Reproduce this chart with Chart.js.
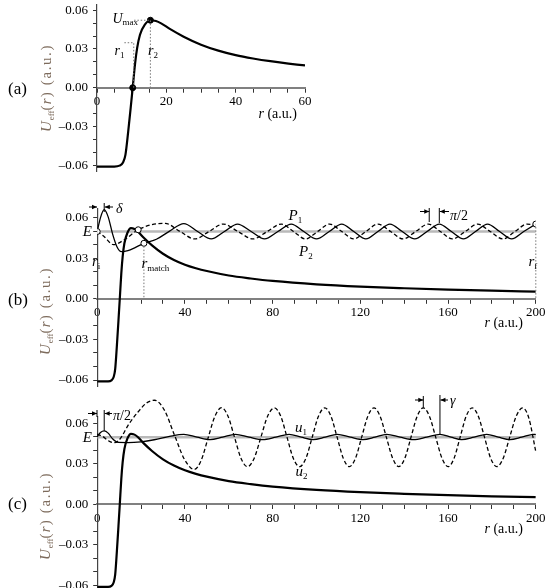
<!DOCTYPE html>
<html>
<head>
<meta charset="utf-8">
<script src="https://cdn.jsdelivr.net/npm/chart.js@4.4.1/dist/chart.umd.min.js"></script>
<style>
  body { margin: 0; background: #fff; width: 550px; height: 588px; position: relative; overflow: hidden; }
  canvas { position: absolute; left: 0; top: -40px; }
</style>
</head>
<body>
<canvas id="painelA" width="550" height="668"></canvas>
<canvas id="painelB" width="550" height="668"></canvas>
<canvas id="painelC" width="550" height="668"></canvas>
<script>
// ------------------ DADOS ------------------
// potencial efetivo U_eff(r) (o mesmo nos três painéis)
const rPot = [0, 5, 6.5, 7.5, 8.2, 9, 9.7, 10.3, 11, 11.6, 12.4, 13.8, 15.4, 17, 18.5, 21, 25, 30, 35, 40, 45, 50, 60, 70, 80, 100, 120, 140, 160, 180, 200];
const uPot = [-0.061, -0.061, -0.0603, -0.0578, -0.052, -0.034, -0.016, 0, 0.019, 0.031, 0.041, 0.0488, 0.0522, 0.0516, 0.0498, 0.0455, 0.0395, 0.0333, 0.0287, 0.0252, 0.0226, 0.0205, 0.0172, 0.015, 0.0132, 0.0107, 0.009, 0.0078, 0.0068, 0.006, 0.0053];

// painel (a): pontos r1, r2 e U_max
const rMarcas = [10.3, 15.4];
const uMarcas = [0, 0.0522];

// energia E (linha cinza)
const E = 0.0497;
const rE = [0, 200];

// painel (b): P1 (contínua) e P2 (tracejada)
const rP1 = [0, 1.5, 3.2, 5, 7, 9, 11, 14, 17.5, 21.3, 27, 33, 39.5, 45.8, 52, 58, 64, 70.2, 76.3, 82.4, 88.5, 94.2, 100, 105.8, 111.5, 117, 122.5, 128, 133.5, 139.1, 144.8, 150.4, 156, 161.5, 167, 172.5, 178, 183.5, 189, 194.5, 200];
const uP1 = [0.0497, 0.06, 0.0658, 0.0605, 0.048, 0.0385, 0.0348, 0.0355, 0.038, 0.041, 0.044, 0.05, 0.0555, 0.0497, 0.0442, 0.0497, 0.0552, 0.0497, 0.0442, 0.0497, 0.0552, 0.0497, 0.0442, 0.0497, 0.0552, 0.0497, 0.0442, 0.0497, 0.0552, 0.0497, 0.0442, 0.0497, 0.0552, 0.0497, 0.0442, 0.0497, 0.0552, 0.0497, 0.0442, 0.0497, 0.0552];
const rP2 = [0, 3, 7.4, 12, 18.7, 25, 31, 37.8, 44.5, 51, 57.5, 64.2, 71, 77.5, 84, 89.5, 95, 100.5, 106, 111.5, 117, 122.5, 128, 133.8, 139.5, 145.2, 151, 156.5, 162, 167.8, 173.5, 179.2, 185, 190.5, 196, 200];
const uP2 = [0.0497, 0.0462, 0.04, 0.0432, 0.051, 0.0548, 0.0557, 0.0497, 0.0442, 0.0497, 0.0552, 0.0497, 0.0442, 0.0497, 0.0552, 0.0497, 0.0442, 0.0497, 0.0552, 0.0497, 0.0442, 0.0497, 0.0552, 0.0497, 0.0442, 0.0497, 0.0552, 0.0497, 0.0442, 0.0497, 0.0552, 0.0497, 0.0442, 0.0497, 0.0552, 0.0545];
// círculos: r_i, casamento das duas curvas, r_match, r_f
const rCirc = [0, 18.7, 21.3, 200];
const uCirc = [0.0497, 0.051, 0.041, 0.0552];

// painel (c): u1 (contínua) e u2 (tracejada)
const rU1 = [0, 1.5, 3.2, 5, 7, 9.6, 14, 20, 26, 33, 39.5, 45.5, 51.5, 57.2, 63, 69.2, 75.5, 81.5, 87.5, 93, 98.5, 104, 109.5, 115.4, 121.3, 126.7, 132, 138.1, 144.2, 150.3, 156.3, 161.3, 166.2, 171.9, 177.6, 182.9, 188.2, 193.6, 199, 200];
const uU1 = [0.05, 0.0532, 0.0544, 0.0527, 0.0485, 0.0458, 0.0457, 0.0463, 0.0478, 0.0503, 0.0518, 0.0497, 0.0479, 0.0497, 0.0518, 0.0497, 0.0479, 0.0497, 0.0518, 0.0497, 0.0479, 0.0497, 0.0518, 0.0497, 0.0479, 0.0497, 0.0518, 0.0497, 0.0479, 0.0497, 0.0518, 0.0497, 0.0479, 0.0497, 0.0518, 0.0497, 0.0479, 0.0497, 0.0518, 0.0516];
const rU2 = [0, 2.5, 5, 7.5, 9.5, 11, 14.2, 18.8, 22.5, 26.2, 30.7, 35.2, 39.8, 44.3, 47.4, 50.5, 53.6, 56.7, 59.65, 62.6, 65.55, 68.5, 71.6, 74.65, 77.7, 80.8, 83.7, 86.55, 89.4, 92.3, 95.2, 98.05, 100.9, 103.8, 106.6, 109.4, 112.2, 115, 117.8, 120.6, 123.4, 126.2, 129, 131.85, 134.7, 137.5, 140.3, 143.1, 145.9, 148.7, 151.5, 154.35, 157.2, 160, 162.75, 165.5, 168.25, 171, 173.8, 176.6, 179.4, 182.2, 185.15, 188.1, 191.05, 194, 196.8, 200];
const uU2 = [0.052, 0.0503, 0.0472, 0.0456, 0.0468, 0.0497, 0.0588, 0.0687, 0.075, 0.077, 0.0695, 0.0514, 0.0333, 0.0258, 0.0325, 0.0487, 0.0649, 0.0715, 0.0652, 0.0497, 0.0342, 0.0279, 0.0342, 0.0497, 0.0652, 0.0714, 0.0652, 0.0497, 0.0342, 0.0279, 0.0342, 0.0497, 0.0652, 0.0714, 0.0652, 0.0497, 0.0342, 0.0279, 0.0342, 0.0497, 0.0652, 0.0714, 0.0652, 0.0497, 0.0342, 0.0279, 0.0342, 0.0497, 0.0652, 0.0714, 0.0652, 0.0497, 0.0342, 0.0279, 0.0342, 0.0497, 0.0652, 0.0714, 0.0652, 0.0497, 0.0342, 0.0279, 0.0342, 0.0497, 0.0652, 0.0714, 0.064, 0.039];

// ------------------ AUXILIARES ------------------
const FONTE = '"Liberation Serif", "Times New Roman", serif';
const OFF = 40; // as telas começam 40px acima da página

function fonte(tam, estilo) { return (estilo ? estilo + ' ' : '') + tam + 'px ' + FONTE; }
const pts = (xs, ys) => xs.map((x, i) => ({ x: x, y: ys[i] }));

function linha(dados, extra) {
    return Object.assign({
        data: dados, borderColor: '#000', borderWidth: 1.3, pointRadius: 0,
        fill: false, cubicInterpolationMode: 'monotone'
    }, extra);
}

// texto em pedaços: [texto, fonte, deslocamento vertical, espaçamento]
function escreve(ctx, x, y, partes, alinha) {
    const temEsp = 'letterSpacing' in ctx;
    const prepara = p => { ctx.font = p[1]; if (temEsp) ctx.letterSpacing = (p[3] || 0) + 'px'; };
    let total = 0;
    partes.forEach(p => { prepara(p); total += ctx.measureText(p[0]).width; });
    let cx = alinha === 'right' ? x - total : alinha === 'center' ? x - total / 2 : x;
    partes.forEach(p => {
        prepara(p);
        ctx.fillText(p[0], cx, y + (p[2] || 0));
        cx += ctx.measureText(p[0]).width;
    });
    if (temEsp) ctx.letterSpacing = '0px';
}

function traco(ctx, x0, y0, x1, y1) {
    ctx.beginPath(); ctx.moveTo(x0, y0); ctx.lineTo(x1, y1); ctx.stroke();
}

function seta(ctx, x0, x1, y) {
    traco(ctx, x0, y, x1, y);
    const d = x1 > x0 ? -1 : 1;
    ctx.beginPath(); ctx.moveTo(x1, y); ctx.lineTo(x1 + d * 5, y - 2.2); ctx.lineTo(x1 + d * 5, y + 2.2); ctx.closePath(); ctx.fill();
}

function pontilhado(ctx, lista) {
    ctx.save();
    ctx.setLineDash([1.5, 1.8]); ctx.strokeStyle = '#777'; ctx.lineWidth = 1;
    ctx.beginPath();
    lista.forEach((p, i) => i ? ctx.lineTo(p[0], p[1]) : ctx.moveTo(p[0], p[1]));
    ctx.stroke();
    ctx.restore();
}

function tituloY(ctx, xb, yc) {
    ctx.save();
    ctx.translate(xb, yc); ctx.rotate(-Math.PI / 2);
    ctx.fillStyle = '#7d6b5c';
    escreve(ctx, 0, 0, [['U', fonte(15, 'italic'), 0, 1], ['eff', fonte(9), 3], ['(', fonte(15), 0, 1.2], ['r', fonte(15, 'italic'), 0, 1.2], [') (a.u.)', fonte(15), 0, 1.6]], 'center');
    ctx.restore();
}

function tituloX(ctx, xd, yb) {
    escreve(ctx, xd, yb, [['r', fonte(14, 'italic')], [' (a.u.)', fonte(14)]], 'right');
}

function escalas(xMax, passo, rotulo, yMin, yMax) {
    const fTick = { family: FONTE, size: 13 };
    return {
        x: {
            type: 'linear', min: 0, max: xMax, position: { y: 0 }, z: 1,
            border: { color: '#808080', width: 2 },
            grid: { drawOnChartArea: false, tickLength: 4, color: '#333' },
            ticks: {
                stepSize: passo, autoSkip: false, maxRotation: 0, padding: 2, color: '#000', font: fTick,
                showLabelBackdrop: true, backdropColor: '#fff', backdropPadding: 1,
                callback: v => (Math.round(v) % rotulo === 0 ? String(Math.round(v)) : '')
            }
        },
        y: {
            type: 'linear', min: yMin, max: yMax, position: 'left',
            border: { color: '#444', width: 1.2 },
            grid: { drawOnChartArea: false, tickLength: 4, color: '#333' },
            ticks: {
                stepSize: 0.01, includeBounds: false, autoSkip: false, padding: 5, color: '#000', font: fTick,
                callback: v => {
                    const c = Math.round(v * 100);
                    return c % 3 === 0 ? (c < 0 ? '\u2013' : '') + Math.abs(c / 100).toFixed(2) : '';
                }
            },
            afterFit: s => { s.width = 50; }
        }
    };
}

function criaPainel(id, datasets, sc, padding, desenho) {
    return new Chart(document.getElementById(id), {
        type: 'line',
        data: { datasets: datasets },
        options: {
            responsive: false, animation: false, devicePixelRatio: 1,
            layout: { padding: padding },
            plugins: { legend: { display: false }, tooltip: { enabled: false } },
            scales: sc
        },
        plugins: [{ id: 'notas_' + id, afterDraw: c => desenho(c) }]
    });
}

function eixos(chart) {
    const sx = chart.scales.x, sy = chart.scales.y;
    return { X: v => sx.getPixelForValue(v), Y: v => sy.getPixelForValue(v) - OFF };
}

// ------------------ PAINEL (a) ------------------
criaPainel('painelA', [
    { data: pts(rMarcas, uMarcas), showLine: false, pointRadius: 3, pointBackgroundColor: '#000', pointBorderColor: '#000' },
    linha(pts(rPot, uPot), { borderWidth: 2.2 })
], escalas(60, 5, 20, -0.065, 0.064), { left: 47, right: 245, top: 45, bottom: 456.3 }, chart => {
    const ctx = chart.ctx, { X, Y } = eixos(chart);
    ctx.save(); ctx.translate(0, OFF);
    pontilhado(ctx, [[X(10.7), Y(uMarcas[1])], [X(rMarcas[1]), Y(uMarcas[1])], [X(rMarcas[1]), Y(0)]]);
    pontilhado(ctx, [[X(7.9), Y(0.0348)], [X(10.6), Y(0.0348)], [X(10.6), Y(0)]]);
    ctx.fillStyle = '#000';
    escreve(ctx, 112.5, 23.3, [['U', fonte(14, 'italic')], ['max', fonte(9), 1.5]]);
    escreve(ctx, 114.5, 55, [['r', fonte(14, 'italic')], ['1', fonte(9), 3]]);
    escreve(ctx, 148, 55, [['r', fonte(14, 'italic')], ['2', fonte(9), 3]]);
    ctx.font = fonte(17); ctx.fillText('(a)', 8, 94);
    tituloX(ctx, 297, 118);
    tituloY(ctx, 51, 88);
    ctx.restore();
});

// ------------------ PAINEL (b) ------------------
criaPainel('painelB', [
    { data: pts(rCirc, uCirc), showLine: false, pointRadius: 3, pointBackgroundColor: '#fff', pointBorderColor: '#000', pointBorderWidth: 1 },
    linha(pts(rP1, uP1)),
    linha(pts(rP2, uP2), { borderDash: [4, 2.5] }),
    linha(pts(rPot, uPot), { borderWidth: 2.2 }),
    linha(pts(rE, [E, E]), { borderColor: '#b9b9b9', borderWidth: 2.5, cubicInterpolationMode: 'default' })
], escalas(200, 10, 40, -0.065, 0.067), { left: 47.2, right: 14.2, top: 248.1, bottom: 241.2 }, chart => {
    const ctx = chart.ctx, { X, Y } = eixos(chart);
    ctx.save(); ctx.translate(0, OFF);
    pontilhado(ctx, [[X(rCirc[2]), Y(uCirc[2]) + 3], [X(rCirc[2]), Y(0)]]);
    pontilhado(ctx, [[X(rCirc[3]), Y(uCirc[3]) + 3], [X(rCirc[3]), Y(0)]]);
    ctx.fillStyle = '#000'; ctx.strokeStyle = '#000'; ctx.lineWidth = 1;
    // delta
    seta(ctx, 89, 97, 207);
    seta(ctx, 113, 104.8, 207);
    traco(ctx, X(3.2), 203, X(3.2), 212);
    escreve(ctx, 116, 213, [['\u03b4', fonte(14, 'italic')]]);
    // pi/2 entre P2 e P1
    traco(ctx, X(151.4), 208, X(151.4), 222);
    traco(ctx, X(156), 208, X(156), 223);
    seta(ctx, 420, X(151.4), 211.5);
    seta(ctx, 449, X(156) + 0.5, 211.5);
    escreve(ctx, 450, 219.5, [['\u03c0', fonte(14, 'italic')], ['/2', fonte(14)]]);
    escreve(ctx, 92, 236, [['E', fonte(15, 'italic')]], 'right');
    escreve(ctx, 92, 266, [['r', fonte(15, 'italic')], ['i', fonte(9), 3]]);
    escreve(ctx, 141.5, 268, [['r', fonte(15, 'italic')], ['match', fonte(9), 2.5]]);
    escreve(ctx, 288.5, 220, [['P', fonte(15, 'italic')], ['1', fonte(9), 3]]);
    escreve(ctx, 299, 256, [['P', fonte(15, 'italic')], ['2', fonte(9), 3]]);
    escreve(ctx, 528.5, 266, [['r', fonte(15, 'italic')], ['f', fonte(9), 3]]);
    ctx.font = fonte(17); ctx.fillText('(b)', 8, 305);
    tituloX(ctx, 523, 327);
    tituloY(ctx, 50, 311);
    ctx.restore();
});

// ------------------ PAINEL (c) ------------------
criaPainel('painelC', [
    linha(pts(rU1, uU1), { clip: false }),
    linha(pts(rU2, uU2), { borderDash: [4, 2.5], clip: false }),
    linha(pts(rPot, uPot), { borderWidth: 2.2 }),
    linha(pts(rE, [E, E]), { borderColor: '#b9b9b9', borderWidth: 2.5, cubicInterpolationMode: 'default' })
], escalas(200, 10, 40, -0.0625, 0.065), { left: 47.2, right: 14.2, top: 456.5, bottom: 39.1 }, chart => {
    const ctx = chart.ctx, { X, Y } = eixos(chart);
    ctx.save(); ctx.translate(0, OFF);
    ctx.fillStyle = '#000'; ctx.strokeStyle = '#000'; ctx.lineWidth = 1;
    // pi/2 no início
    traco(ctx, 97, 410, 97, 417);
    seta(ctx, 88, 97, 413.5);
    traco(ctx, X(3.2), 410, X(3.2), Y(0.0544));
    seta(ctx, 112, X(3.2) + 0.5, 413.5);
    escreve(ctx, 113, 420, [['\u03c0', fonte(14, 'italic')], ['/2', fonte(14)]]);
    // gama entre u2 e u1
    traco(ctx, X(148.7), 396, X(148.7), Y(0.0714));
    traco(ctx, X(156.3), 395, X(156.3), Y(0.0517));
    seta(ctx, 415, X(148.7), 400);
    seta(ctx, 448, X(156.3) + 0.5, 400);
    escreve(ctx, 450, 405, [['\u03b3', fonte(14, 'italic')]]);
    escreve(ctx, 92, 442, [['E', fonte(15, 'italic')]], 'right');
    escreve(ctx, 295, 432, [['u', fonte(15, 'italic')], ['1', fonte(9), 3]]);
    escreve(ctx, 295.5, 476, [['u', fonte(15, 'italic')], ['2', fonte(9), 3]]);
    ctx.font = fonte(17); ctx.fillText('(c)', 8, 509);
    tituloX(ctx, 523, 532.5);
    tituloY(ctx, 50, 516);
    ctx.restore();
});
</script>
</body>
</html>
